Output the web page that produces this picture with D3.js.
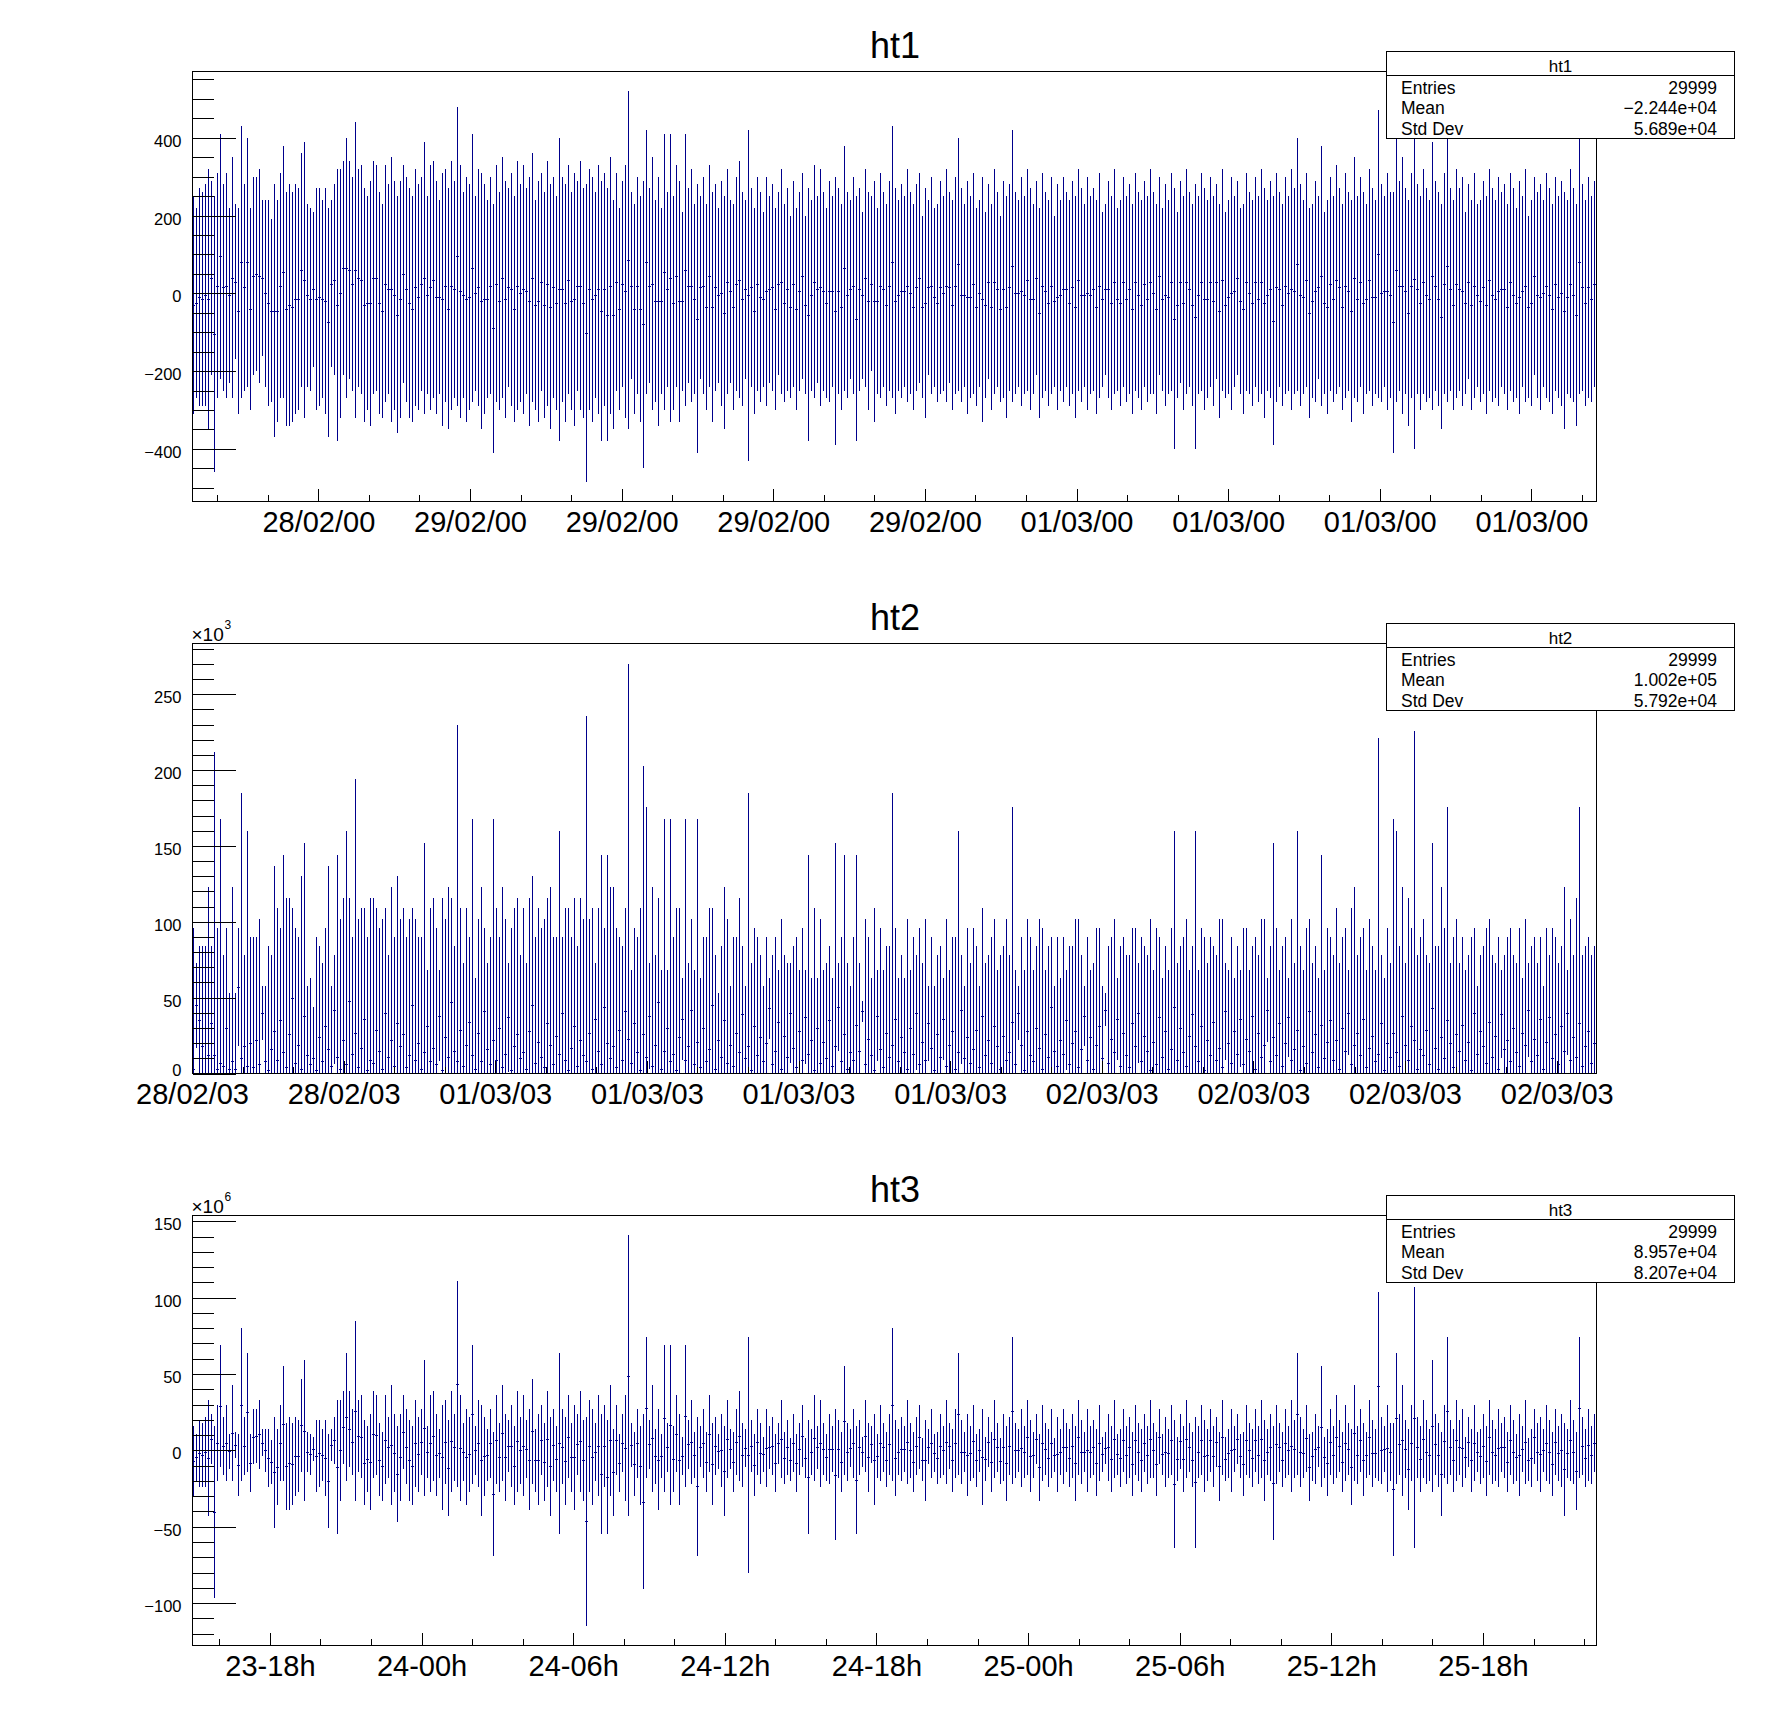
<!DOCTYPE html>
<html>
<head>
<meta charset="utf-8">
<script src="https://cdn.jsdelivr.net/npm/d3@7"></script>
<style>
  body { margin: 0; background: #fff; }
  text { font-family: "Liberation Sans", Arial, Helvetica, sans-serif; }
</style>
</head>
<body>
<svg id="chart" width="1788" height="1716"></svg>
<script>
// the three histograms share the binning, only the time offset differs
const nBins = 468
const spanSeconds = 200000

// ht1: top and bottom of each error bar (bin content sits in the middle)
const ht1High = [
  250,220,270,260,280,320,290,250,310,410, 280,310,220,350,230,220,430,280,400,220,
  300,300,320,240,240,240,190,280,240,310, 380,260,280,260,280,270,360,390,230,220,
  210,270,270,240,270,220,240,280,320,320, 340,400,340,300,440,320,330,270,250,290,
  340,330,260,230,330,280,350,290,250,290, 330,300,270,250,320,280,300,390,250,330,
  340,290,240,310,320,270,340,290,480,330, 260,300,280,410,250,320,310,280,240,300,
  230,330,260,350,290,270,310,250,340,280, 330,270,300,360,240,290,310,260,340,280,
  300,250,400,300,280,330,260,310,290,340, 270,280,320,300,260,330,290,310,270,350,
  240,310,220,290,330,520,260,230,300,250, 290,420,270,350,240,300,220,410,260,410,
  250,330,290,210,410,270,320,230,280,250, 300,230,330,260,280,220,290,250,320,240,
  230,300,340,260,240,420,270,220,300,260, 210,300,250,280,220,260,320,230,270,200,
  290,220,260,310,200,270,240,330,250,320, 260,220,290,250,300,270,230,380,260,240,
  300,250,270,210,320,260,250,290,220,310, 260,230,290,430,270,240,280,250,320,260,
  230,280,310,200,270,240,300,220,230,290, 250,320,260,240,300,400,270,230,290,250,
  310,220,240,300,210,280,230,320,260,200, 290,250,280,420,260,240,300,250,320,270,
  230,290,220,310,260,240,300,200,280,240, 300,260,240,290,250,320,270,230,300,250,
  270,240,310,210,230,290,250,320,220,240, 300,250,280,230,310,260,240,290,250,320,
  260,230,300,220,280,240,310,270,210,290, 250,320,260,230,280,250,310,270,240,300,
  250,280,230,320,210,240,300,250,290,220, 230,310,260,240,300,250,320,270,240,290,
  250,310,260,230,300,250,320,270,400,280, 240,310,220,230,290,250,380,210,240,300,
  250,330,270,230,310,260,240,350,250,300, 260,230,320,270,240,470,280,250,310,260,
  260,400,290,350,270,240,310,475,280,250, 320,270,240,390,290,260,230,310,420,270,
  240,320,270,300,210,280,240,310,230,240, 290,250,320,270,240,300,260,280,230,310,
  270,220,290,250,320,200,240,300,260,280, 240,310,270,230,300,250,290,260,240,320,
  270,230,420,280,240,300,250,290
]
const ht1Low = [
  -310,-270,-290,-290,-290,-350,-210,-460,-270,-220, -250,-270,-230,-270,-170,-310,-270,-250,-240,-300,
  -210,-200,-230,-160,-240,-290,-280,-370,-330,-270, -270,-340,-340,-330,-310,-300,-240,-320,-240,-250,
  -190,-300,-290,-270,-310,-370,-190,-210,-380,-320, -210,-270,-220,-250,-320,-240,-260,-330,-300,-340,
  -260,-250,-310,-320,-280,-260,-330,-300,-360,-320, -230,-280,-320,-330,-290,-300,-250,-310,-260,-300,
  -270,-310,-260,-340,-280,-350,-300,-270,-290,-320, -270,-330,-300,-280,-250,-290,-350,-310,-270,-260,
  -410,-280,-300,-270,-320,-240,-290,-330,-300,-280, -310,-260,-340,-280,-300,-330,-250,-320,-290,-350,
  -270,-300,-380,-280,-330,-260,-300,-340,-250,-300, -320,-485,-300,-330,-270,-310,-380,-290,-380,-310,
  -350,-250,-300,-240,-320,-350,-220,-310,-260,-330, -450,-260,-230,-300,-280,-340,-260,-300,-240,-330,
  -300,-240,-330,-250,-290,-230,-280,-260,-410,-220, -260,-300,-240,-330,-250,-230,-290,-350,-260,-230,
  -300,-250,-270,-290,-220,-430,-240,-310,-250,-280, -240,-290,-230,-250,-300,-210,-260,-280,-250,-270,
  -240,-300,-250,-220,-260,-380,-250,-270,-230,-290, -250,-270,-280,-240,-390,-260,-300,-250,-270,-220,
  -260,-380,-250,-220,-240,-300,-200,-330,-260,-270, -240,-290,-250,-270,-310,-250,-270,-240,-280,-260,
  -300,-250,-230,-270,-320,-210,-260,-240,-280,-260, -250,-280,-230,-300,-260,-250,-280,-240,-310,-270,
  -260,-290,-240,-330,-270,-220,-300,-260,-240,-280, -270,-320,-250,-280,-260,-240,-290,-260,-250,-300,
  -260,-210,-320,-270,-250,-290,-260,-240,-300,-250, -280,-240,-290,-260,-320,-250,-280,-240,-300,-260,
  -250,-310,-270,-240,-210,-270,-300,-260,-250,-290, -240,-280,-260,-310,-250,-270,-300,-240,-280,-260,
  -260,-310,-210,-250,-290,-260,-250,-400,-270,-230, -300,-260,-240,-290,-400,-260,-250,-300,-270,-240,
  -290,-220,-320,-250,-270,-260,-300,-240,-210,-260, -310,-250,-260,-290,-240,-280,-260,-320,-250,-270,
  -390,-280,-240,-290,-260,-250,-300,-260,-250,-290, -260,-240,-320,-270,-280,-220,-290,-260,-310,-250,
  -280,-260,-240,-300,-270,-250,-330,-270,-280,-240, -310,-260,-250,-290,-260,-270,-280,-240,-300,-270,
  -410,-280,-250,-310,-260,-340,-270,-400,-260,-300, -260,-280,-270,-300,-250,-290,-350,-260,-280,-250,
  -300,-270,-250,-290,-260,-220,-300,-270,-240,-280, -260,-310,-250,-280,-270,-290,-240,-260,-300,-250,
  -280,-270,-310,-240,-280,-270,-290,-210,-270,-300, -240,-270,-280,-310,-250,-270,-290,-350,-260,-270,
  -280,-340,-260,-250,-290,-270,-280,-240
]

// ht2 (x10^3): bin content and top of each error bar
const ht2Value = [
  3,45,35,18,20,12,33,12,3,7, 5,30,3,8,3,57,10,18,5,20,
  4,22,6,40,8,2,16,28,9,35, 14,4,26,50,7,19,3,38,12,6,
  10,2,24,8,31,16,5,42,11,3, 22,6,48,13,27,4,17,36,2,9,
  7,29,15,3,40,11,22,5,33,18, 26,4,12,45,9,20,3,14,31,8,
  17,6,38,2,24,11,47,15,8,29, 5,19,34,12,3,27,8,41,16,6,
  22,9,30,4,13,37,2,18,26,10, 14,3,28,45,7,21,11,4,33,19,
  6,25,13,40,9,2,17,31,5,22, 12,8,27,3,36,15,6,44,20,10,
  18,4,29,9,41,23,7,33,14,2, 26,11,38,5,19,47,3,15,30,8,
  13,2,24,36,9,18,42,6,21,4, 30,8,16,45,3,22,11,35,7,19,
  5,27,14,39,10,18,2,31,12,24, 8,20,43,6,15,34,3,25,11,40,
  17,4,28,9,37,13,22,2,30,7, 21,10,35,5,18,44,8,26,3,14,
  9,32,15,41,6,23,12,2,38,16, 4,27,11,19,36,8,24,14,3,30,
  13,40,6,21,9,33,17,2,26,11, 36,5,19,28,3,14,42,10,24,7,
  16,29,4,38,12,22,7,31,18,3, 25,9,14,34,6,40,19,2,28,12,
  8,30,17,3,26,11,44,15,5,22, 13,35,6,20,28,4,16,38,9,24,
  3,19,31,10,42,7,23,14,36,5, 27,12,4,33,18,40,8,25,15,2,
  21,6,37,11,28,3,16,44,9,30, 14,5,25,39,18,8,31,2,22,12,
  34,9,17,4,41,20,7,28,13,36, 6,23,15,38,3,27,11,19,42,8,
  24,12,33,5,20,37,9,16,29,2, 18,7,41,14,26,4,32,10,21,35,
  9,22,3,30,15,40,6,19,27,12, 36,4,17,25,8,13,33,2,20,11,
  27,14,5,38,19,9,31,22,3,16, 12,29,6,43,17,3,24,10,35,20,
  4,26,15,32,9,21,2,40,13,28, 18,7,34,11,25,3,39,16,22,8,
  30,14,5,27,19,42,8,23,12,36, 3,21,37,10,26,6,31,15,40,9,
  24,11,33,5,18,28,7,20
]
const ht2High = [
  96,73,84,84,84,123,84,212,96,168, 78,96,53,123,53,96,185,78,160,90,
  90,90,102,58,58,84,78,137,109,96, 144,116,116,109,96,90,130,152,58,63,
  44,90,84,73,96,137,58,78,144,102, 116,160,116,90,194,102,109,109,90,116,
  116,109,96,102,109,78,123,90,130,102, 109,90,102,109,102,90,90,152,68,109,
  116,96,68,116,102,123,116,84,230,109, 73,109,90,168,63,102,123,96,73,90,
  168,109,90,123,102,73,96,109,116,78, 109,73,116,130,90,109,96,102,116,123,
  90,90,160,90,109,109,90,116,84,116, 102,236,102,109,73,109,144,96,144,123,
  123,96,90,84,109,270,68,96,90,109, 203,176,73,123,78,116,68,168,68,168,
  90,109,109,63,168,73,102,68,168,63, 90,90,109,109,78,53,84,123,102,58,
  90,90,116,84,58,185,73,96,90,78, 58,90,63,78,90,68,102,78,73,73,
  84,90,68,96,68,144,63,109,63,102, 68,73,84,63,152,73,90,144,73,58,
  90,144,73,48,102,90,63,109,68,96, 68,84,84,185,96,63,78,63,102,68,
  90,78,96,73,102,58,90,58,78,84, 63,102,68,90,90,160,78,58,96,73,
  96,84,58,109,73,78,90,102,68,78, 84,102,78,176,68,58,90,68,102,90,
  68,84,102,96,68,84,90,58,90,63, 90,68,84,84,102,102,78,58,90,68,
  73,96,96,58,53,84,90,102,63,84, 90,78,78,96,96,73,90,84,78,102,
  68,96,90,63,84,68,96,160,73,84, 90,102,68,84,160,68,96,90,73,90,
  84,78,102,102,73,68,90,63,84,68, 96,96,68,84,90,78,102,102,63,84,
  152,96,68,84,90,63,102,73,160,84, 68,96,102,73,84,63,144,68,96,90,
  78,109,73,90,96,68,109,123,78,90, 96,68,102,84,68,221,78,63,96,73,
  168,160,84,123,73,116,96,226,78,90, 102,78,73,152,84,84,123,96,176,73,
  90,102,73,90,68,78,90,96,58,78, 84,96,102,78,73,90,68,78,90,96,
  78,73,96,63,102,73,84,90,73,90, 58,96,78,96,90,73,84,123,68,102,
  78,116,176,78,84,90,78,84
]

// ht3 (x10^6): top and bottom of each error bar
const ht3High = [
  16,11,20,18,22,33,24,16,30,69, 22,30,11,43,12,11,80,22,64,11,
  27,27,33,14,14,14,7,22,14,30, 55,18,22,18,22,20,47,59,12,11,
  9,20,20,14,20,11,14,22,33,33, 39,64,39,27,85,33,36,20,16,24,
  39,36,18,12,36,22,43,24,16,24, 36,27,20,16,33,22,27,59,16,36,
  39,24,14,30,33,20,39,24,111,36, 18,27,22,69,16,33,30,22,14,27,
  12,36,18,43,24,20,30,16,39,22, 36,20,27,47,14,24,30,18,39,22,
  27,16,64,27,22,36,18,30,24,39, 20,22,33,27,18,36,24,30,20,43,
  14,30,11,24,36,141,18,12,27,16, 24,74,20,43,14,27,11,69,18,69,
  16,36,24,9,69,20,33,12,22,16, 27,12,36,18,22,11,24,16,33,14,
  12,27,39,18,14,74,20,11,27,18, 9,27,16,22,11,18,33,12,20,8,
  24,11,18,30,8,20,14,36,16,33, 18,11,24,16,27,20,12,55,18,14,
  27,16,20,9,33,18,16,24,11,30, 18,12,24,80,20,14,22,16,33,18,
  12,22,30,8,20,14,27,11,12,24, 16,33,18,14,27,64,20,12,24,16,
  30,11,14,27,9,22,12,33,18,8, 24,16,22,74,18,14,27,16,33,20,
  12,24,11,30,18,14,27,8,22,14, 27,18,14,24,16,33,20,12,27,16,
  20,14,30,9,12,24,16,33,11,14, 27,16,22,12,30,18,14,24,16,33,
  18,12,27,11,22,14,30,20,9,24, 16,33,18,12,22,16,30,20,14,27,
  16,22,12,33,9,14,27,16,24,11, 12,30,18,14,27,16,33,20,14,24,
  16,30,18,12,27,16,33,20,64,22, 14,30,11,12,24,16,55,9,14,27,
  16,36,20,12,30,18,14,43,16,27, 18,12,33,20,14,104,22,16,30,18,
  18,64,24,43,20,14,30,107,22,16, 33,20,14,59,24,18,12,30,74,20,
  14,33,20,27,9,22,14,30,12,14, 24,16,33,20,14,27,18,22,12,30,
  20,11,24,16,33,8,14,27,18,22, 14,30,20,12,27,16,24,18,14,33,
  20,12,74,22,14,27,16,24
]
const ht3Low = [
  -30,-20,-24,-24,-24,-43,-9,-97,-20,-11, -16,-20,-12,-20,-5,-30,-20,-16,-14,-27,
  -9,-8,-12,-4,-14,-24,-22,-51,-36,-20, -20,-39,-39,-36,-30,-27,-14,-33,-14,-16,
  -7,-27,-24,-20,-30,-51,-7,-9,-55,-33, -9,-20,-11,-16,-33,-14,-18,-36,-27,-39,
  -18,-16,-30,-33,-22,-18,-36,-27,-47,-33, -12,-22,-33,-36,-24,-27,-16,-30,-18,-27,
  -20,-30,-18,-39,-22,-43,-27,-20,-24,-33, -20,-36,-27,-22,-16,-24,-43,-30,-20,-18,
  -69,-22,-27,-20,-33,-14,-24,-36,-27,-22, -30,-18,-39,-22,-27,-36,-16,-33,-24,-43,
  -20,-27,-55,-22,-36,-18,-27,-39,-16,-27, -33,-115,-27,-36,-20,-30,-55,-24,-55,-30,
  -43,-16,-27,-14,-33,-43,-11,-30,-18,-36, -91,-18,-12,-27,-22,-39,-18,-27,-14,-36,
  -27,-14,-36,-16,-24,-12,-22,-18,-69,-11, -18,-27,-14,-36,-16,-12,-24,-43,-18,-12,
  -27,-16,-20,-24,-11,-80,-14,-30,-16,-22, -14,-24,-12,-16,-27,-9,-18,-22,-16,-20,
  -14,-27,-16,-11,-18,-55,-16,-20,-12,-24, -16,-20,-22,-14,-59,-18,-27,-16,-20,-11,
  -18,-55,-16,-11,-14,-27,-8,-36,-18,-20, -14,-24,-16,-20,-30,-16,-20,-14,-22,-18,
  -27,-16,-12,-20,-33,-9,-18,-14,-22,-18, -16,-22,-12,-27,-18,-16,-22,-14,-30,-20,
  -18,-24,-14,-36,-20,-11,-27,-18,-14,-22, -20,-33,-16,-22,-18,-14,-24,-18,-16,-27,
  -18,-9,-33,-20,-16,-24,-18,-14,-27,-16, -22,-14,-24,-18,-33,-16,-22,-14,-27,-18,
  -16,-30,-20,-14,-9,-20,-27,-18,-16,-24, -14,-22,-18,-30,-16,-20,-27,-14,-22,-18,
  -18,-30,-9,-16,-24,-18,-16,-64,-20,-12, -27,-18,-14,-24,-64,-18,-16,-27,-20,-14,
  -24,-11,-33,-16,-20,-18,-27,-14,-9,-18, -30,-16,-18,-24,-14,-22,-18,-33,-16,-20,
  -59,-22,-14,-24,-18,-16,-27,-18,-16,-24, -18,-14,-33,-20,-22,-11,-24,-18,-30,-16,
  -22,-18,-14,-27,-20,-16,-36,-20,-22,-14, -30,-18,-16,-24,-18,-20,-22,-14,-27,-20,
  -69,-22,-16,-30,-18,-39,-20,-64,-18,-27, -18,-22,-20,-27,-16,-24,-43,-18,-22,-16,
  -27,-20,-16,-24,-18,-11,-27,-20,-14,-22, -18,-30,-16,-22,-20,-24,-14,-18,-27,-16,
  -22,-20,-30,-14,-22,-20,-24,-9,-20,-27, -14,-20,-22,-30,-16,-20,-24,-43,-18,-20,
  -22,-39,-18,-16,-24,-20,-22,-14
]

// time axis labels (one per 6 h major tick)
const ht1TickLabels = ['28/02/00','29/02/00','29/02/00','29/02/00','29/02/00','01/03/00','01/03/00','01/03/00','01/03/00']
const ht2TickLabels = ['28/02/03','28/02/03','01/03/03','01/03/03','01/03/03','01/03/03','02/03/03','02/03/03','02/03/03','02/03/03']
const ht3TickLabels = ['23-18h','24-00h','24-06h','24-12h','24-18h','25-00h','25-06h','25-12h','25-18h']

const statNames = ['Entries', 'Mean', 'Std Dev']
const ht1Stats = ['29999', '\u22122.244e+04', '5.689e+04']
const ht2Stats = ['29999', '1.002e+05', '5.792e+04']
const ht3Stats = ['29999', '8.957e+04', '8.207e+04']

let svg = d3.select('#chart'),
    padH = 572,
    fx0 = 192.5, fx1 = 1596.5,
    fy0 = 71.5, fy1 = 501.5,
    histColor = '#00008c'

svg.append('rect').attr('width', 1788).attr('height', 1716).attr('fill', '#fff')

let pads = [
  {
    name: 'ht1', start: Date.UTC(2000, 1, 28, 13, 0, 0),
    low: ht1Low, high: ht1High, mid: ht1Low.map((l, i) => (l + ht1High[i]) / 2),
    labels: ht1TickLabels, stats: ht1Stats,
    major: 200, minor: 50, zeroMin: false, exponent: null
  },
  {
    name: 'ht2', start: Date.UTC(2003, 1, 28, 12, 0, 0),
    low: ht2Value.map((v, i) => 2 * v - ht2High[i]), high: ht2High, mid: ht2Value,
    labels: ht2TickLabels, stats: ht2Stats,
    major: 50, minor: 10, zeroMin: true, exponent: '3'
  },
  {
    name: 'ht3', start: Date.UTC(2003, 1, 23, 14, 55, 0),
    low: ht3Low, high: ht3High, mid: ht3Low.map((l, i) => (l + ht3High[i]) / 2),
    labels: ht3TickLabels, stats: ht3Stats,
    major: 50, minor: 10, zeroMin: false, exponent: '6'
  }
]

pads.forEach(drawPad)

function drawPad(p, k) {
  let g = svg.append('g').attr('transform', `translate(0,${k * padH})`)

  // bins 3 px wide, centres land on pixel centres
  let x = d3.scaleUtc()
    .domain([new Date(p.start), new Date(p.start + spanSeconds * 1000)])
    .range([fx0 - 0.5, fx1 - 0.5])

  // ROOT style range: 5% margin above the max and below the min
  let lo = d3.min(p.low), hi = d3.max(p.high)
  if (p.zeroMin) lo = 0
  let marg = 0.05 * (hi - lo)
  let y = d3.scaleLinear()
    .domain([p.zeroMin ? 0 : lo - marg, hi + marg])
    .range([fy1, fy0])

  g.append('clipPath').attr('id', 'clip' + k)
    .append('rect')
    .attr('x', fx0).attr('y', fy0)
    .attr('width', fx1 - fx0).attr('height', fy1 - fy0)

  // error bars + horizontal bin-width line at the content
  let binMs = spanSeconds * 1000 / nBins
  let path = d3.path()
  p.high.forEach((h, i) => {
    let xa = x(new Date(p.start + i * binMs)),
        xb = x(new Date(p.start + (i + 1) * binMs)),
        xc = x(new Date(p.start + (i + 0.5) * binMs)),
        yc = Math.round(y(p.mid[i])) + 0.5
    path.moveTo(xc, y(p.low[i]))
    path.lineTo(xc, y(h))
    path.moveTo(xa, yc)
    path.lineTo(xb, yc)
  })
  g.append('path')
    .attr('clip-path', `url(#clip${k})`)
    .attr('d', path.toString())
    .attr('fill', 'none')
    .attr('stroke', histColor)
    .attr('stroke-width', 1.1)
    .attr('shape-rendering', 'crispEdges')

  // y axis: ticks drawn inside the frame
  let d = y.domain()
  let majorY = d3.range(Math.ceil(d[0] / p.major) * p.major, d[1], p.major)
  let minorY = d3.range(Math.ceil(d[0] / p.minor) * p.minor, d[1], p.minor)
    .filter(v => Math.abs(v / p.major - Math.round(v / p.major)) > 1e-6)

  let ayMinor = g.append('g').attr('transform', `translate(${fx0},0)`)
    .call(d3.axisLeft(y).tickValues(minorY).tickSize(-21).tickFormat(''))
  let ayMajor = g.append('g').attr('transform', `translate(${fx0},0)`)
    .call(d3.axisLeft(y).tickValues(majorY).tickSize(-43).tickPadding(11).tickFormat(d3.format('d')))
  ;[ayMinor, ayMajor].forEach(a => {
    a.select('.domain').remove()
    a.selectAll('line').attr('shape-rendering', 'crispEdges').attr('stroke', '#000')
  })
  ayMajor.selectAll('text')
    .attr('dy', v => (p.zeroMin && v === 0) ? 2 : 8.5)
    .attr('font-size', 16.5)
    .attr('font-family', '"Liberation Sans", Arial, sans-serif')
    .attr('fill', '#000')

  // x axis: 6 h major ticks, 2 h minor ticks
  let majorX = x.ticks(d3.utcHour.every(6))
  let minorX = x.ticks(d3.utcHour.every(2)).filter(t => t.getUTCHours() % 6 !== 0)

  let axMinor = g.append('g').attr('transform', `translate(0,${fy1})`)
    .call(d3.axisBottom(x).tickValues(minorX).tickSize(-6.5).tickFormat(''))
  let axMajor = g.append('g').attr('transform', `translate(0,${fy1})`)
    .call(d3.axisBottom(x).tickValues(majorX).tickSize(-13).tickPadding(0)
      .tickFormat((t, i) => p.labels[i]))
  ;[axMinor, axMajor].forEach(a => {
    a.select('.domain').remove()
    a.selectAll('line').attr('shape-rendering', 'crispEdges').attr('stroke', '#000')
  })
  axMajor.selectAll('text')
    .attr('y', 30.5)
    .attr('dy', 0)
    .attr('font-size', 29)
    .attr('font-family', '"Liberation Sans", Arial, sans-serif')
    .attr('fill', '#000')

  // frame
  g.append('rect')
    .attr('x', fx0).attr('y', fy0)
    .attr('width', fx1 - fx0).attr('height', fy1 - fy0)
    .attr('fill', 'none').attr('stroke', '#000')
    .attr('shape-rendering', 'crispEdges')

  // axis multiplier
  if (p.exponent) {
    g.append('text').attr('x', fx0 - 1).attr('y', fy0 - 2.5)
      .attr('font-size', 19).text('\u00d710')
    g.append('text').attr('x', fx0 + 32).attr('y', fy0 - 15)
      .attr('font-size', 12).text(p.exponent)
  }

  // title
  g.append('text')
    .attr('x', 895).attr('y', 57.5)
    .attr('text-anchor', 'middle')
    .attr('font-size', 36)
    .text(p.name)

  // stats box
  let bx0 = 1386.5, bx1 = 1734.5, by0 = 51.5, by1 = 138.5
  g.append('rect')
    .attr('x', bx0).attr('y', by0)
    .attr('width', bx1 - bx0).attr('height', by1 - by0)
    .attr('fill', '#fff').attr('stroke', '#000')
    .attr('shape-rendering', 'crispEdges')
  g.append('line')
    .attr('x1', bx0).attr('x2', bx1).attr('y1', 75.5).attr('y2', 75.5)
    .attr('stroke', '#000').attr('shape-rendering', 'crispEdges')
  g.append('text')
    .attr('x', (bx0 + bx1) / 2).attr('y', 71.5)
    .attr('text-anchor', 'middle').attr('font-size', 17)
    .text(p.name)
  let rowY = [93.5, 114, 134.5]
  statNames.forEach((s, i) => {
    g.append('text').attr('x', 1401).attr('y', rowY[i])
      .attr('font-size', 17.5).text(s)
    g.append('text').attr('x', 1717).attr('y', rowY[i])
      .attr('text-anchor', 'end').attr('font-size', 17.5).text(p.stats[i])
  })
}
</script>
</body>
</html>
